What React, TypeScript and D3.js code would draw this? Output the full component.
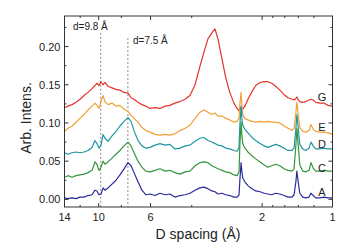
import React from 'react'
import { scaleLog, scaleLinear, line } from 'd3'

const width = 350
const height = 251
const margin = { left: 64.5, right: 17.5, top: 16, bottom: 44 }

// d spacing (Å) of each sample, shared by all curves
const dSpacing = [14.0, 13.52, 13.0, 12.5, 12.02, 11.55, 11.11, 10.68, 10.37, 10.17, 9.97, 9.77, 9.58, 9.4, 9.12, 8.77, 8.43, 8.11, 7.79, 7.49,
  7.27, 7.06, 6.79, 6.53, 6.28, 6.03, 5.74, 5.47, 5.2, 4.96, 4.72, 4.49, 4.27, 4.07, 3.87, 3.69, 3.55, 3.41, 3.28, 3.18,
  3.09, 2.97, 2.86, 2.75, 2.64, 2.56, 2.51, 2.49, 2.46, 2.44, 2.42, 2.37, 2.3, 2.21, 2.13, 2.04, 1.96, 1.89, 1.82, 1.75,
  1.68, 1.61, 1.55, 1.49, 1.46, 1.434, 1.42, 1.405, 1.38, 1.34, 1.3, 1.26, 1.236, 1.21, 1.18, 1.13, 1.09, 1.045, 1.0]

const seriesA = [0.002, 0.001, 0.002, 0.001, 0.003, 0.003, 0.005, 0.006, 0.012, 0.011, 0.006, 0.007, 0.015, 0.012, 0.015, 0.02, 0.025, 0.032, 0.04, 0.048,
  0.044, 0.035, 0.023, 0.012, 0.006, 0.007, 0.005, 0.008, 0.006, 0.007, 0.003, 0.005, 0.006, 0.008, 0.012, 0.015, 0.016, 0.014, 0.011, 0.01,
  0.007, 0.008, 0.006, 0.005, 0.003, 0.003, 0.006, 0.025, 0.048, 0.036, 0.028, 0.023, 0.018, 0.014, 0.011, 0.01, 0.008, 0.007, 0.006, 0.008,
  0.007, 0.005, 0.003, 0.003, 0.006, 0.023, 0.037, 0.025, 0.008, 0.003, 0.002, 0.003, 0.008, 0.005, 0.002, 0.002, 0.003, 0.002, 0.002]

const seriesC = [0.029, 0.031, 0.029, 0.031, 0.032, 0.033, 0.035, 0.038, 0.049, 0.046, 0.038, 0.042, 0.05, 0.046, 0.049, 0.054, 0.059, 0.064, 0.07, 0.075,
  0.07, 0.061, 0.05, 0.042, 0.037, 0.036, 0.038, 0.04, 0.037, 0.038, 0.035, 0.033, 0.036, 0.037, 0.044, 0.048, 0.049, 0.048, 0.044, 0.042,
  0.04, 0.038, 0.036, 0.035, 0.032, 0.031, 0.036, 0.071, 0.101, 0.084, 0.073, 0.067, 0.062, 0.057, 0.053, 0.049, 0.045, 0.042, 0.044, 0.046,
  0.044, 0.04, 0.038, 0.037, 0.04, 0.071, 0.093, 0.075, 0.045, 0.037, 0.036, 0.038, 0.048, 0.041, 0.037, 0.037, 0.038, 0.037, 0.037]

const seriesD = [0.061, 0.059, 0.061, 0.062, 0.061, 0.062, 0.064, 0.068, 0.077, 0.073, 0.067, 0.071, 0.085, 0.08, 0.076, 0.083, 0.089, 0.096, 0.102, 0.107,
  0.102, 0.09, 0.077, 0.07, 0.067, 0.068, 0.071, 0.073, 0.071, 0.072, 0.066, 0.067, 0.07, 0.071, 0.076, 0.08, 0.081, 0.077, 0.075, 0.073,
  0.071, 0.07, 0.067, 0.066, 0.064, 0.063, 0.068, 0.097, 0.122, 0.106, 0.097, 0.092, 0.087, 0.081, 0.077, 0.073, 0.07, 0.068, 0.07, 0.072,
  0.07, 0.067, 0.064, 0.064, 0.067, 0.093, 0.111, 0.097, 0.072, 0.066, 0.064, 0.067, 0.075, 0.07, 0.066, 0.066, 0.067, 0.066, 0.066]

const seriesE = [0.089, 0.093, 0.096, 0.101, 0.106, 0.111, 0.117, 0.122, 0.126, 0.123, 0.119, 0.128, 0.136, 0.128, 0.124, 0.126, 0.122, 0.123, 0.118, 0.115,
  0.11, 0.106, 0.101, 0.094, 0.09, 0.088, 0.085, 0.084, 0.085, 0.084, 0.086, 0.09, 0.093, 0.097, 0.106, 0.114, 0.117, 0.114, 0.111, 0.113,
  0.109, 0.109, 0.106, 0.104, 0.101, 0.102, 0.106, 0.124, 0.14, 0.122, 0.111, 0.106, 0.104, 0.102, 0.101, 0.102, 0.101, 0.102, 0.101, 0.101,
  0.1, 0.096, 0.093, 0.09, 0.093, 0.114, 0.127, 0.114, 0.094, 0.089, 0.088, 0.09, 0.098, 0.092, 0.089, 0.088, 0.088, 0.087, 0.085]

const seriesG = [0.12, 0.122, 0.124, 0.127, 0.131, 0.136, 0.14, 0.145, 0.149, 0.152, 0.149, 0.154, 0.15, 0.153, 0.148, 0.146, 0.144, 0.143, 0.14, 0.139,
  0.133, 0.131, 0.127, 0.124, 0.122, 0.119, 0.12, 0.119, 0.122, 0.123, 0.126, 0.128, 0.131, 0.136, 0.15, 0.174, 0.192, 0.21, 0.218, 0.223,
  0.21, 0.184, 0.159, 0.14, 0.126, 0.119, 0.116, 0.118, 0.12, 0.116, 0.118, 0.122, 0.131, 0.141, 0.149, 0.153, 0.154, 0.154, 0.152, 0.148,
  0.143, 0.137, 0.133, 0.131, 0.13, 0.132, 0.134, 0.131, 0.128, 0.127, 0.128, 0.13, 0.131, 0.13, 0.127, 0.126, 0.126, 0.123, 0.122]

const seriesNames = ['G', 'E', 'D', 'C', 'A']
const seriesColors = ['#e4342c', '#f2a035', '#2196a0', '#34963c', '#2a2a9c']
const seriesData = [seriesG, seriesE, seriesD, seriesC, seriesA]
// value where each name sits at the right edge
const labelValues = [0.134, 0.095, 0.072, 0.041, 0.01]

const yTicks = [0, 0.05, 0.1, 0.15, 0.2]
const yMinor = [0.025, 0.075, 0.125, 0.175, 0.225]
const xTicks = [14, 10, 6, 2, 1]
const xMinor = [12, 8, 4, 1.8, 1.6, 1.4, 1.2]

const markers = [{ d: 9.8, label: 'd=9.8 Å', top: 0.218 }, { d: 7.5, label: 'd=7.5 Å', top: 0.211 }]

const font = 'Liberation Sans, Arial, sans-serif'

export default function App() {
  const x = scaleLog().domain([14, 1]).range([margin.left, width - margin.right])
  const y = scaleLinear().domain([-0.01, 0.24]).range([height - margin.bottom, margin.top])
  const x0 = margin.left, x1 = width - margin.right
  const y0 = height - margin.bottom, y1 = margin.top

  const path = line<number>()
    .x((_, i) => x(dSpacing[i]))
    .y(v => y(v))

  const axisColor = '#333'

  return (
    <svg width={width} height={height} style={{ position: 'absolute', left: 0, top: 0, background: '#fff' }}>
      {/* dashed marker lines */}
      {markers.map(m => (
        <g key={m.label}>
          <line x1={x(m.d)} x2={x(m.d)} y1={y(m.top)} y2={y0} stroke="#888" strokeDasharray="2,2" />
        </g>
      ))}
      <text x={73} y={30} fontSize={10} fontFamily={font} fill="#222">{markers[0].label}</text>
      <text x={133} y={44} fontSize={10} fontFamily={font} fill="#222">{markers[1].label}</text>

      {/* curves */}
      {seriesData.map((s, i) => (
        <path key={seriesNames[i]} d={path(s) || ''} fill="none" stroke={seriesColors[i]} strokeWidth={1.2} strokeLinejoin="round" />
      ))}
      {seriesNames.map((n, i) => (
        <text key={n} x={322} y={y(labelValues[i]) + 4} textAnchor="middle" fontSize={11} fontFamily={font} fill="#222">{n}</text>
      ))}

      {/* frame */}
      <rect x={x0} y={y1} width={x1 - x0} height={y0 - y1} fill="none" stroke={axisColor} strokeWidth={1} />

      {/* y ticks */}
      {yTicks.map(t => (
        <g key={t}>
          <line x1={x0} x2={x0 + 4} y1={y(t)} y2={y(t)} stroke={axisColor} />
          <line x1={x1} x2={x1 - 4} y1={y(t)} y2={y(t)} stroke={axisColor} />
          <text x={x0 - 4} y={y(t) + 4} textAnchor="end" fontSize={11} fontFamily={font} fill="#222">{t.toFixed(2)}</text>
        </g>
      ))}
      {yMinor.map(t => (
        <g key={t}>
          <line x1={x0} x2={x0 + 2} y1={y(t)} y2={y(t)} stroke={axisColor} />
          <line x1={x1} x2={x1 - 2} y1={y(t)} y2={y(t)} stroke={axisColor} />
        </g>
      ))}

      {/* x ticks */}
      {xTicks.map(t => (
        <g key={t}>
          <line x1={x(t)} x2={x(t)} y1={y0} y2={y0 - 4} stroke={axisColor} />
          <line x1={x(t)} x2={x(t)} y1={y1} y2={y1 + 4} stroke={axisColor} />
          <text x={x(t)} y={y0 + 14} textAnchor="middle" fontSize={11} fontFamily={font} fill="#222">{t}</text>
        </g>
      ))}
      {xMinor.map(t => (
        <g key={t}>
          <line x1={x(t)} x2={x(t)} y1={y0} y2={y0 - 2} stroke={axisColor} />
          <line x1={x(t)} x2={x(t)} y1={y1} y2={y1 + 2} stroke={axisColor} />
        </g>
      ))}

      {/* axis titles */}
      <text x={198} y={239} textAnchor="middle" fontSize={14} fontFamily={font} fill="#222">D spacing (Å)</text>
      <text transform="translate(31,118) rotate(-90)" textAnchor="middle" fontSize={14} fontFamily={font} fill="#222">Arb. Intens.</text>
    </svg>
  )
}
